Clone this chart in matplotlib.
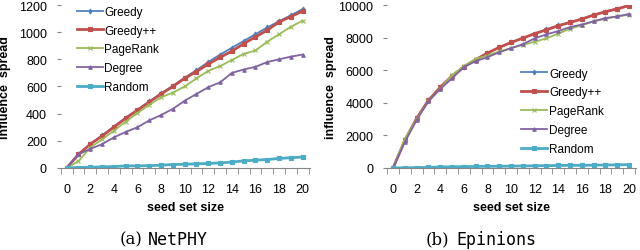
import matplotlib.pyplot as plt
import numpy as np

plt.rcParams.update({
    "font.family": "Liberation Sans",
    "font.size": 8.5,
})

seeds = list(range(21))

# NetPHY
phy_greedy = [0, 100, 175, 240, 305, 370, 430, 490, 550, 605, 665, 720, 780, 835, 885, 935, 985, 1035, 1080, 1125, 1170]
phy_greedypp = [0, 100, 175, 235, 300, 365, 425, 485, 545, 600, 660, 710, 765, 815, 860, 915, 965, 1015, 1075, 1115, 1155]
phy_pagerank = [0, 50, 150, 210, 275, 340, 405, 465, 520, 555, 600, 660, 715, 750, 795, 840, 865, 930, 985, 1040, 1085]
phy_degree = [0, 100, 140, 175, 225, 265, 300, 350, 390, 435, 495, 545, 595, 630, 700, 725, 745, 780, 800, 820, 835]
phy_random = [0, 3, 5, 8, 10, 15, 15, 17, 20, 25, 27, 30, 33, 37, 43, 52, 57, 62, 70, 75, 80]

# Epinions
epi_greedy = [0, 1700, 3050, 4150, 4950, 5650, 6200, 6650, 7050, 7400, 7700, 7980, 8250, 8500, 8750, 8950, 9150, 9400, 9600, 9780, 9980]
epi_greedypp = [0, 1700, 3050, 4150, 4950, 5650, 6200, 6650, 7050, 7400, 7700, 7970, 8240, 8480, 8730, 8930, 9140, 9380, 9590, 9760, 9970]
epi_pagerank = [0, 1800, 3000, 4100, 4850, 5700, 6250, 6700, 6900, 7150, 7350, 7550, 7750, 7950, 8250, 8550, 8750, 9000, 9150, 9300, 9400]
epi_degree = [0, 1600, 2950, 4100, 4850, 5500, 6200, 6550, 6800, 7100, 7350, 7600, 7950, 8200, 8400, 8650, 8800, 9000, 9200, 9300, 9450]
epi_random = [0, 10, 20, 30, 60, 70, 80, 90, 100, 100, 110, 120, 130, 140, 150, 160, 160, 170, 180, 190, 200]

names = ["Greedy", "Greedy++", "PageRank", "Degree", "Random"]
colors = ["#4F81BD", "#C0504D", "#9BBB59", "#8064A2", "#4BACC6"]
markers = ["d", "s", "x", "^", "s"]
widths = [1.3, 2.0, 1.3, 1.3, 2.0]
msizes = [2.5, 3, 3.5, 2.5, 3]

fig = plt.figure(figsize=(6.4, 2.51), dpi=100)
ax1 = fig.add_axes([0.095, 0.327, 0.389, 0.649])
ax2 = fig.add_axes([0.605, 0.327, 0.389, 0.649])

def draw(ax, series, ymax, ystep, legend_anchor):
    for s, n, c, m, w, ms in zip(series, names, colors, markers, widths, msizes):
        ax.plot(seeds, s, color=c, marker=m, lw=w, ms=ms, mew=0.8, label=n)
    ax.set_xlim(-0.5, 20.6)
    ax.set_ylim(0, ymax)
    ax.set_xticks(range(0, 21, 2))
    ax.set_xticks(np.arange(-0.5, 21, 1), minor=True)
    ax.set_yticks(range(0, ymax + 1, ystep))
    ax.tick_params(axis="x", which="major", length=0, pad=11, labelsize=9)
    ax.tick_params(axis="x", which="minor", length=4, color="#868686", direction="out")
    ax.tick_params(axis="y", length=3, color="#868686", pad=7, labelsize=9)
    for sp in ["top", "right", "left"]:
        ax.spines[sp].set_visible(False)
    ax.spines["bottom"].set_color("#868686")
    ax.set_xlabel("seed set size", fontweight="bold", fontsize=9, labelpad=4)
    ax.set_ylabel("influence  spread", fontweight="bold", fontsize=9)
    ax.yaxis.set_label_coords(-0.2, 0.5)
    ax.legend(loc="upper left", bbox_to_anchor=legend_anchor, frameon=False,
              handlelength=2.2, handletextpad=0.15, labelspacing=0.58, borderaxespad=0.0)

draw(ax1, [phy_greedy, phy_greedypp, phy_pagerank, phy_degree, phy_random], 1200, 200, (0.045, 1.025))
draw(ax2, [epi_greedy, epi_greedypp, epi_pagerank, epi_degree, epi_random], 10000, 2000, (0.52, 0.645))

fig.text(0.222, 0.044, "(a)", family="DejaVu Serif", fontsize=12, ha="right", va="center")
fig.text(0.231, 0.044, "NetPHY", family="DejaVu Sans Mono", fontsize=12, ha="left", va="center")
fig.text(0.702, 0.044, "(b)", family="DejaVu Serif", fontsize=12, ha="right", va="center")
fig.text(0.713, 0.044, "Epinions", family="DejaVu Sans Mono", fontsize=12, ha="left", va="center")

fig.savefig("out.png", dpi=100)
